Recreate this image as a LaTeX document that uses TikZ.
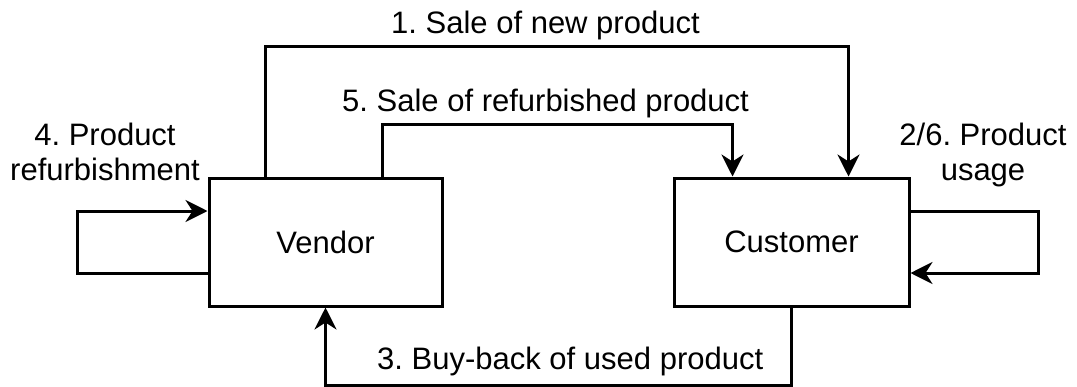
\documentclass[tikz,border=0pt]{standalone}
\usepackage{fontspec}
\setmainfont{Liberation Sans}
\usetikzlibrary{arrows.meta}
\frenchspacing
\tikzset{
  actor/.style={draw, line width=3pt, minimum height=128pt, inner sep=0pt, fill=white},
  flow/.style={line width=3pt, -{Stealth[length=22pt, width=22pt, inset=7pt]}},
  lbl/.style={inner sep=0pt, align=center},
}
\begin{document}
\begin{tikzpicture}[x=1pt, y=-1pt, font=\fontsize{31}{35}\selectfont]
  \useasboundingbox[fill=white] (0,0) rectangle (1077,386);

  % the two parties
  \node[actor, minimum width=233pt] (V) at (325.5,242) {Vendor};
  \node[actor, minimum width=235pt] (C) at (791.5,242) {Customer};

  % 1: new product, over the top
  \draw[flow] ([xshift=58pt]V.north west) -- ++(0,-130) -| ([xshift=176pt]C.north west);
  % 5: refurbished product, inner route
  \draw[flow] ([xshift=175pt]V.north west) -- ++(0,-52) -| ([xshift=60pt]C.north west);
  % 3: buy-back, underneath
  \draw[flow] (C.south) -- ++(0,78) -| (V.south);
  % 4: refurbishment loop on the vendor
  \draw[flow] ([yshift=-31pt]V.west) -- ++(-130,0) |- ([yshift=31pt]V.west);
  % 2/6: usage loop on the customer
  \draw[flow] ([yshift=31pt]C.east) -- ++(128,0) |- ([yshift=-31pt]C.east);

  % labels
  \node[lbl, anchor=base west] (l1) at (391,33) {1. Sale of new product};
  \node[lbl, anchor=base west] (l5) at (342,111) {5. Sale of refurbished product};
  \node[lbl, anchor=base west] (l3) at (377,369) {3. Buy-back of used product};
  \node[lbl, anchor=base] (l4) at (105,180) {4. Product\\refurbishment};
  \node[lbl, anchor=base] (l2) at (983,180) {2/6. Product\\usage};
\end{tikzpicture}
\end{document}
